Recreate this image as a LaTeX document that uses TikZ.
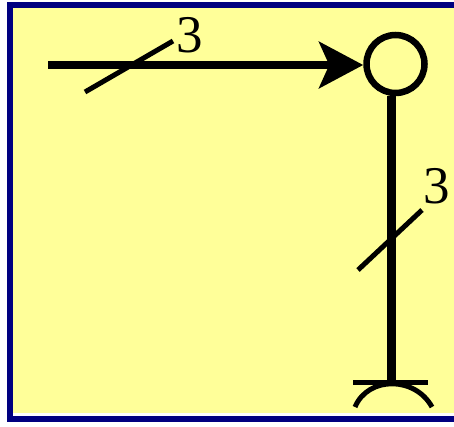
\documentclass[tikz,border=0pt]{standalone}
\usepackage{fontspec}
\setmainfont{Liberation Serif}
\usepackage{tikz}
\usetikzlibrary{calc,positioning,arrows.meta}
\definecolor{fundo}{HTML}{FFFF99}
\definecolor{moldura}{HTML}{000080}
\begin{document}
\begin{tikzpicture}[x=1pt,y=-1pt,
    fio/.style={line width=8.5pt, black},
    traco/.style={line width=5pt, black},
    rotulo/.style={inner sep=0pt, font=\fontsize{53}{53}\selectfont}]
  \useasboundingbox (0,0) rectangle (454,426);
  \fill[white] (0,0) rectangle (454,426);
  \fill[fundo] (13,8) rectangle (454,413);
  \fill[moldura] (7,2) rectangle (454,8);
  \fill[moldura] (7,2) rectangle (13,422);
  \fill[moldura] (7,416) rectangle (454,422);
  \node[circle, draw, line width=6.5pt, fill=fundo, minimum size=58pt, inner sep=0pt] (juncao) at (395.5,64) {};
  \coordinate (entrada) at (48,65);
  \coordinate (base) at (391.5,381);
  \draw[fio, -{Stealth[length=44pt,width=46pt,inset=10pt]}] (entrada) -- (juncao.west |- entrada);
  \draw[fio] (juncao.south -| base) -- (base);
  \coordinate (corteA1) at (85,92);
  \coordinate (corteA2) at (173,41);
  \coordinate (corteB1) at (358,270);
  \coordinate (corteB2) at (422,210);
  \draw[traco] (corteA1) -- (corteA2);
  \draw[traco] (corteB1) -- (corteB2);
  \node[rotulo] (rotuloA) at (190,35) {3};
  \node[rotulo] (rotuloB) at (436.5,186.5) {3};
  \coordinate (apoioE) at (353,382);
  \coordinate (apoioD) at (428,382);
  \draw[traco] (apoioE) -- (apoioD);
  \draw[traco] (355,407) .. controls (368,376) and (415,376) .. (432,407);
\end{tikzpicture}
\end{document}
